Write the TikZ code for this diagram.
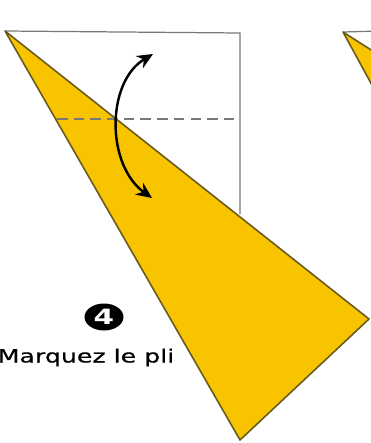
\documentclass[tikz,border=0pt]{standalone}
\usepackage{fontspec}
\setmainfont{DejaVu Sans}
\newfontfamily\etiquette[FakeBold=0.6]{DejaVu Sans}
\usetikzlibrary{arrows.meta}
\usetikzlibrary{shapes.geometric}

\definecolor{papier}{RGB}{248,196,0}
\definecolor{bord}{RGB}{105,90,30}
\definecolor{trait}{RGB}{120,120,120}

\begin{document}
\begin{tikzpicture}[x=0.02cm,y=-0.02cm,
    carre/.style={draw=trait, line width=0.7pt},
    pli/.style={draw=trait, line width=0.8pt, dash pattern=on 6pt off 3.5pt},
    feuille/.style={fill=papier, draw=bord, line width=0.9pt, line join=round},
    fleche/.style={draw=black, line width=1.4pt, {Stealth[length=9pt,width=8pt]}-{Stealth[length=9pt,width=8pt]}}]

    % image frame
    \useasboundingbox (0,0) rectangle (371,443);
    \clip (0,0) rectangle (371,443);

    %%%%%%%%%%%%%%%%%%%%%%
    % Square (back of the sheet)
    %%%%%%%%%%%%%%%%%%%%%%
    \coordinate (apex) at (5,31);
    \coordinate (tr) at (240,33);
    \coordinate (rb) at (240,214);
    \draw [carre] (apex) -- (tr) -- (rb);

    %%%%%%%%%%%%%%%%%%%%%%
    % Folded flap
    %%%%%%%%%%%%%%%%%%%%%%
    \coordinate (right) at (369,319);
    \coordinate (bottom) at (240,440);
    \filldraw [feuille] (apex) -- (right) -- (bottom) -- cycle;

    % fold line
    \coordinate (pliA) at (57,119);
    \coordinate (pliB) at (240,119);
    \draw [pli] (pliA) -- (pliB);

    % valley fold arrow
    \coordinate (haut) at (153,54);
    \coordinate (bas) at (152,198);
    \draw [fleche] (haut) .. controls (106,82) and (106,165) .. (bas);

    %%%%%%%%%%%%%%%%%%%%%%
    % Next step (cut at the edge)
    %%%%%%%%%%%%%%%%%%%%%%
    \coordinate (apex2) at (343,32);
    \draw [carre] (apex2) -- (380,31);
    \filldraw [feuille] (apex2) -- (390,62) -- (390,118) -- cycle;

    %%%%%%%%%%%%%%%%%%%%%%
    % Step label
    %%%%%%%%%%%%%%%%%%%%%%
    \node [fill=black, ellipse, inner sep=0pt, draw=none,
           minimum width=0.78cm, minimum height=0.54cm] (num) at (104,317) {};
    \node [text=white, font=\bfseries\fontsize{12}{14}\selectfont, xscale=1.4] (chiffre) at (num) {4};
    \node [anchor=base, font=\etiquette\fontsize{10.4}{12}\selectfont, xscale=1.38, inner sep=0pt] (texte) at (86,362.5) {Marquez le pli};
\end{tikzpicture}
\end{document}
